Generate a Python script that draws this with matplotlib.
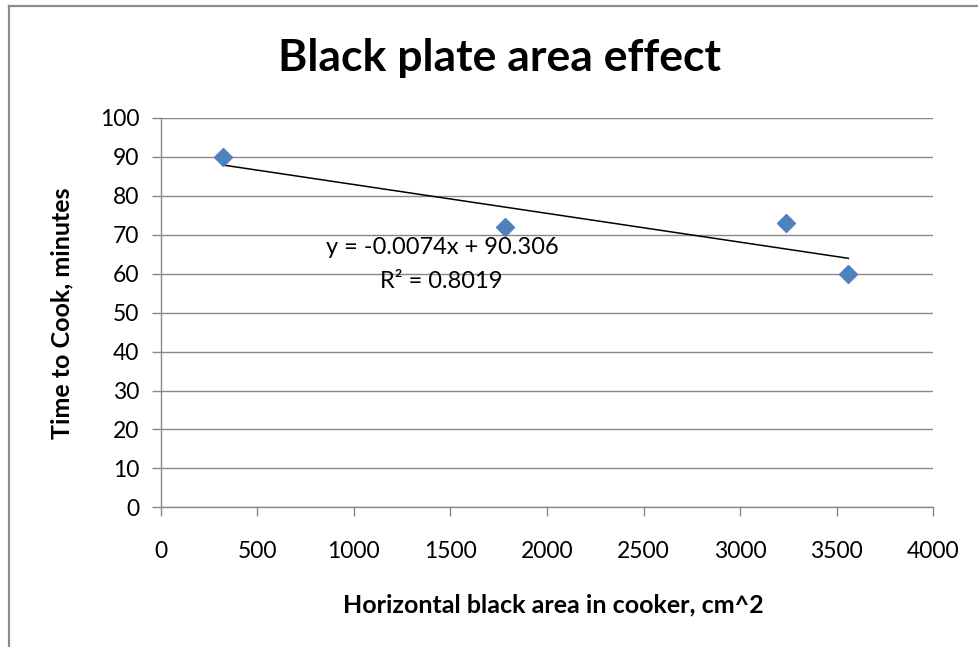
import matplotlib
matplotlib.use("Agg")
import matplotlib.pyplot as plt
from matplotlib.lines import Line2D
import numpy as np

# Measured data: black plate area vs. cooking time
area_cm2 = [321, 1783, 3237, 3560]
cook_minutes = [90, 72, 73, 60]

# Linear trendline coefficients and fit quality
slope = -0.0074
intercept = 90.306
r_squared = 0.8019

x_ticks = [0, 500, 1000, 1500, 2000, 2500, 3000, 3500, 4000]
y_ticks = [0, 10, 20, 30, 40, 50, 60, 70, 80, 90, 100]

plt.rcParams['font.family'] = ['Lato', 'DejaVu Sans']

W, H = 979, 647
fig = plt.figure(figsize=(W / 100, H / 100), dpi=100)
fig.patch.set_facecolor('white')

# chart frame (top and left edges)
frame_col = '#8c8c8c'
fig.add_artist(Line2D([9 / W, 1.0], [1 - 5.5 / H, 1 - 5.5 / H], color=frame_col, lw=1.6))
fig.add_artist(Line2D([9 / W, 9 / W], [0.0, 1 - 5.5 / H], color=frame_col, lw=1.6))

left, right = 160.7 / W, 933.3 / W
bottom, top = 1 - 507.3 / H, 1 - 118 / H
ax = fig.add_axes([left, bottom, right - left, top - bottom])

grid_col = '#888888'
ax.set_xlim(0, 4000)
ax.set_ylim(0, 100)
ax.set_xticks(x_ticks)
ax.set_yticks(y_ticks)
ax.set_yticklabels([str(v) for v in y_ticks])
ax.yaxis.grid(True, color=grid_col, lw=1.0)
ax.set_axisbelow(True)
for s in ['top', 'right']:
    ax.spines[s].set_visible(False)
for s in ['left', 'bottom']:
    ax.spines[s].set_color(grid_col)
    ax.spines[s].set_linewidth(1.0)
ax.tick_params(axis='both', direction='out', length=6.5, width=1.0, color=grid_col,
               labelsize=16.5, labelcolor='black')
ax.tick_params(axis='x', pad=18)
ax.tick_params(axis='y', pad=9)

# trendline over the data range
xs = np.array([min(area_cm2), max(area_cm2)])
ax.plot(xs, slope * xs + intercept, color='black', lw=1.1, zorder=3)

ax.plot(area_cm2, cook_minutes, linestyle='none', marker='D', markersize=9.5,
        color='#4F81BD', markeredgecolor='#4F81BD', zorder=4, clip_on=False)

fig.text(442 / W, 1 - 247 / H, f"y = {slope:.4f}x + {intercept:.3f}",
         ha='center', va='center', fontsize=17)
fig.text(441 / W, 1 - 281 / H, f"R\u00b2 = {r_squared:.4f}",
         ha='center', va='center', fontsize=17)

fig.text(500 / W, 1 - 58 / H, "Black plate area effect", ha='center', va='center',
         fontsize=32, fontweight='bold')
fig.text(553 / W, 1 - 605 / H, "Horizontal black area in cooker, cm^2", ha='center',
         va='center', fontsize=18, fontweight='bold')
fig.text(62 / W, 1 - 313 / H, "Time to Cook, minutes", ha='center', va='center',
         rotation=90, fontsize=18, fontweight='bold')

fig.savefig('out.png', dpi=100, facecolor='white')
